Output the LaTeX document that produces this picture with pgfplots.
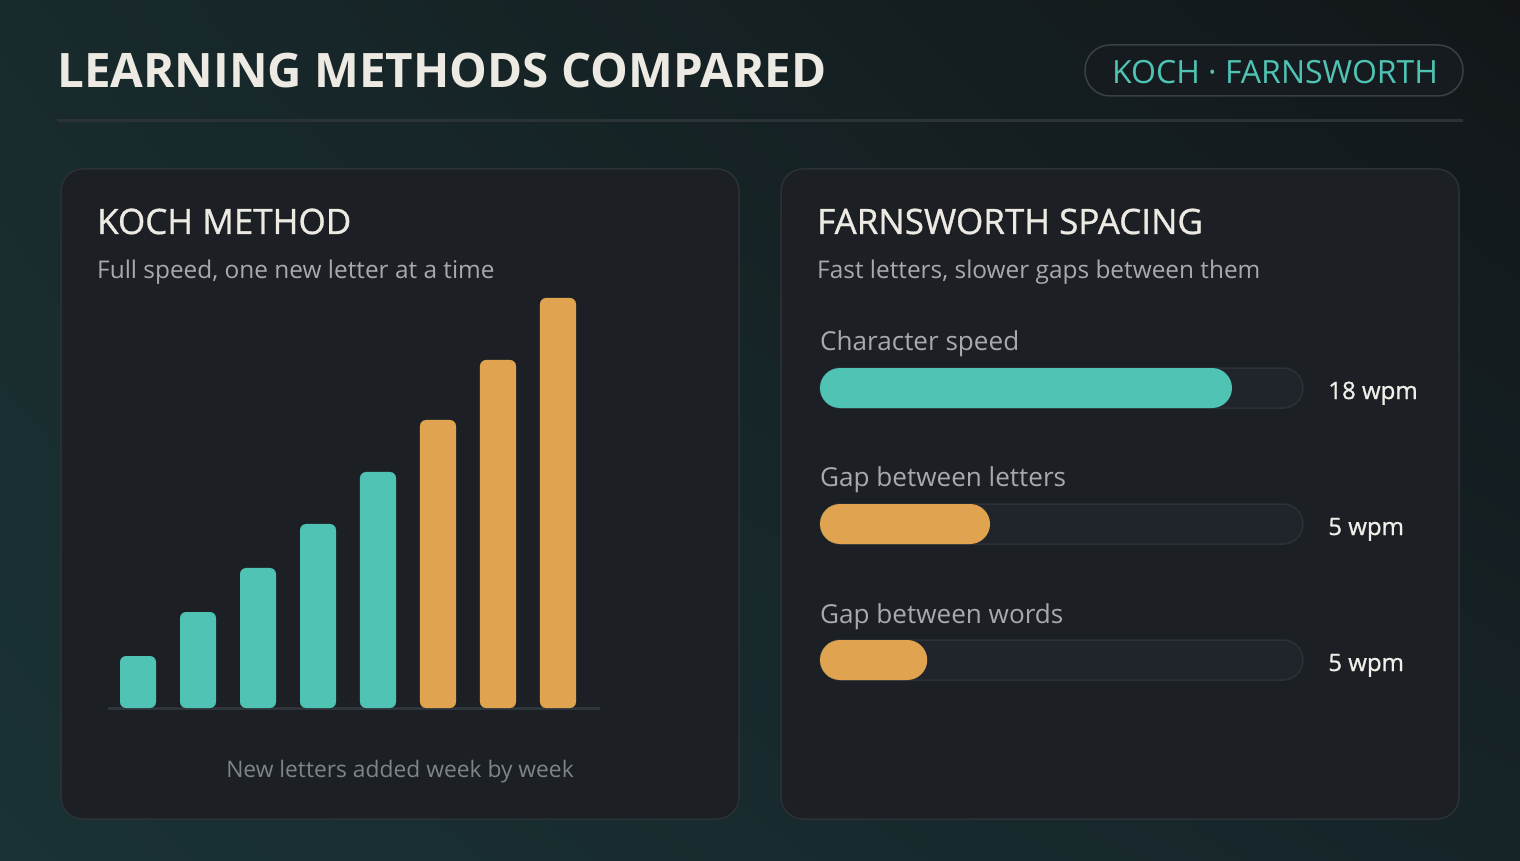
\documentclass[border=0pt]{standalone}
\usepackage{pgfplots}
\pgfplotsset{compat=1.18}
\usetikzlibrary{shadings}
\usepackage{fontspec}
\setmainfont{Open Sans}
\newfontfamily\semib{Open Sans}[FakeBold=0.9]
\definecolor{bgUL}{HTML}{182A2C}
\definecolor{bgUR}{HTML}{121619}
\definecolor{bgLL}{HTML}{1A3234}
\definecolor{bgLR}{HTML}{162428}
\definecolor{titlec}{HTML}{ECEAE2}
\definecolor{tealc}{HTML}{4FC4B4}
\definecolor{orangec}{HTML}{E0A34F}
\definecolor{panelf}{HTML}{1C2025}
\definecolor{panelb}{HTML}{2B3136}
\definecolor{trackf}{HTML}{20252B}
\definecolor{trackb}{HTML}{2B3137}
\definecolor{subc}{HTML}{A7AAAD}
\definecolor{capc}{HTML}{7E8489}
\definecolor{valc}{HTML}{F0EEE8}
\definecolor{badgeb}{HTML}{3A4146}
\definecolor{badgef}{HTML}{161B1F}
\definecolor{sepc}{HTML}{2C3337}
\definecolor{basec}{HTML}{2E353B}
\begin{document}
\begin{tikzpicture}[x=1pt,y=1pt]
\shade[upper left=bgUL, upper right=bgUR, lower left=bgLL, lower right=bgLR] (0,0) rectangle (1520,860);
\coordinate (LA) at (108,152);
\coordinate (RA) at (820,132);
% title
\node[anchor=base west, inner sep=0, text=titlec, font=\fontsize{47.5}{50}\selectfont\bfseries] at (57,772.7) {LEARNING METHODS COMPARED};
% badge
\draw[draw=badgeb, fill=badgef, line width=1.5, rounded corners=25] (1085,764) rectangle (1463,815);
\node[anchor=base west, inner sep=0, text=tealc, font=\fontsize{32}{36}\selectfont] at (1112,776.7) {KOCH · FARNSWORTH};
% separator
\draw[sepc, line width=3] (57,739) -- (1463,739);
% panels
\draw[draw=panelb, fill=panelf, line width=1.5, rounded corners=22] (61,41) rectangle (739,691);
\draw[draw=panelb, fill=panelf, line width=1.5, rounded corners=22] (781,41) rectangle (1459,691);
% panel headings
\node[anchor=base west, inner sep=0, text=titlec, font=\fontsize{35}{38}\selectfont\semib] at (97,626) {KOCH METHOD};
\node[anchor=base west, inner sep=0, text=subc, font=\fontsize{24.4}{29}\selectfont] at (97,581.7) {Full speed, one new letter at a time};
\node[anchor=base west, inner sep=0, text=titlec, font=\fontsize{35}{38}\selectfont\semib] at (817,626) {FARNSWORTH SPACING};
\node[anchor=base west, inner sep=0, text=subc, font=\fontsize{24.4}{29}\selectfont] at (817,581.7) {Fast letters, slower gaps between them};
\node[anchor=base, inner sep=0, text=capc, font=\fontsize{22.8}{28}\selectfont] at (400,82.3) {New letters added week by week};
% left chart
\begin{axis}[at={(LA)}, anchor=south west, scale only axis,
  width=492pt, height=410pt, xmin=0.5, xmax=8.7, ymin=0, ymax=410,
  hide axis, clip=false, ybar, bar width=36pt]
\draw[basec, line width=3pt] (rel axis cs:0,0) -- (rel axis cs:1,0);
\addplot[ybar, bar shift=0pt, fill=tealc, draw=none, rounded corners=6pt]
  coordinates {(1,52) (2,96) (3,140) (4,184) (5,236)};
\addplot[ybar, bar shift=0pt, fill=orangec, draw=none, rounded corners=6pt]
  coordinates {(6,288) (7,348) (8,410)};
\end{axis}
% right chart
\begin{axis}[at={(RA)}, anchor=south west, scale only axis,
  width=483pt, height=408pt, xmin=0, xmax=100, ymin=0.5, ymax=3.5,
  hide axis, clip=false, xbar, bar width=40pt]
\addplot[xbar, bar shift=0pt, fill=trackf, draw=trackb, line width=1.5pt, rounded corners=20pt]
  coordinates {(100,3) (100,2) (100,1)};
\addplot[xbar, bar shift=0pt, fill=tealc, draw=none, rounded corners=20pt]
  coordinates {(85.3,3)};
\addplot[xbar, bar shift=0pt, fill=orangec, draw=none, rounded corners=20pt]
  coordinates {(35.2,2) (22.2,1)};
\node[anchor=base west, inner sep=0, text=subc, font=\fontsize{26.1}{31}\selectfont, yshift=37pt] at (axis cs:0,3) {Character speed};
\node[anchor=base west, inner sep=0, text=subc, font=\fontsize{26.1}{31}\selectfont, yshift=37pt] at (axis cs:0,2) {Gap between letters};
\node[anchor=base west, inner sep=0, text=subc, font=\fontsize{26.1}{31}\selectfont, yshift=37pt] at (axis cs:0,1) {Gap between words};
\node[anchor=base west, inner sep=0, text=valc, font=\fontsize{24}{29}\selectfont\semib, yshift=-11pt] at (axis cs:105.2,3) {18 wpm};
\node[anchor=base west, inner sep=0, text=valc, font=\fontsize{24}{29}\selectfont\semib, yshift=-11pt] at (axis cs:105.2,2) {5 wpm};
\node[anchor=base west, inner sep=0, text=valc, font=\fontsize{24}{29}\selectfont\semib, yshift=-11pt] at (axis cs:105.2,1) {5 wpm};
\end{axis}
\end{tikzpicture}
\end{document}
